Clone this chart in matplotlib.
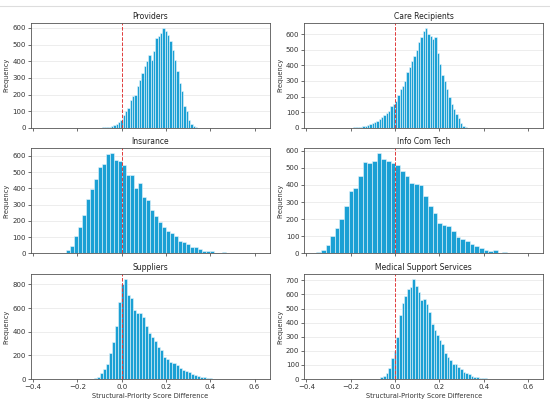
"""Histograms of structural-priority score differences by stakeholder group."""

import matplotlib
matplotlib.use("Agg")
import matplotlib.pyplot as plt
import numpy as np
from matplotlib.lines import Line2D
from matplotlib.ticker import MultipleLocator

# panel titles, in grid order (row by row)
titles = [
    "Providers",
    "Care Recipients",
    "Insurance",
    "Info Com Tech",
    "Suppliers",
    "Medical Support Services",
]

# first bin edge and bin width of each histogram
bin_starts = [-0.100, -0.200, -0.285, -0.3555, -0.124, -0.066]
bin_widths = [0.0105, 0.0105, 0.018, 0.021, 0.0136, 0.012]

# bar heights (frequency)
providers = [2, 3, 5, 6, 8, 10, 15, 25, 35, 50, 80, 100, 120, 170, 190, 200,
             250, 290, 330, 370, 400, 440, 410, 460, 540, 550, 570, 600, 580,
             560, 520, 470, 410, 340, 270, 220, 130, 100, 50, 25, 10, 3]
care_recipients = [2, 3, 5, 6, 8, 10, 15, 20, 22, 28, 35, 45, 55, 70, 80, 95,
                   110, 140, 150, 175, 210, 250, 270, 300, 360, 390, 430, 460,
                   500, 550, 580, 620, 640, 600, 590, 570, 580, 480, 410, 340,
                   300, 250, 200, 150, 120, 90, 60, 30, 15, 5, 2]
insurance = [1, 5, 20, 48, 105, 165, 235, 335, 395, 460, 530, 550, 610, 615,
             575, 570, 545, 485, 480, 400, 435, 345, 330, 270, 230, 195, 160,
             135, 125, 110, 75, 70, 55, 40, 38, 30, 15, 17, 15, 5, 3, 8, 3, 2, 1]
info_com_tech = [10, 20, 49, 103, 150, 201, 279, 362, 380, 454, 536, 526, 542,
                 584, 551, 542, 526, 515, 481, 454, 409, 403, 399, 337, 279,
                 234, 175, 166, 162, 130, 97, 82, 72, 55, 45, 33, 23, 16, 20,
                 4, 10, 2, 2, 1]
suppliers = [6, 20, 48, 82, 127, 218, 316, 444, 655, 800, 845, 712, 684, 585,
             557, 557, 528, 444, 387, 359, 325, 274, 246, 185, 167, 147, 133,
             119, 90, 76, 68, 56, 42, 31, 25, 20, 14, 11, 6]
medical_support = [12, 21, 45, 75, 146, 197, 298, 451, 538, 592, 639, 655, 709,
                   662, 615, 561, 568, 533, 474, 392, 345, 310, 275, 246, 185,
                   157, 134, 110, 106, 87, 68, 52, 40, 33, 21, 16, 12, 9, 7, 5,
                   3, 2, 2, 1]

counts = [providers, care_recipients, insurance, info_com_tech, suppliers,
          medical_support]

# y tick spacing of each panel
y_steps = [100, 100, 100, 100, 200, 100]

x_ticks = [-0.4, -0.2, 0.0, 0.2, 0.4, 0.6]
x_label = "Structural-Priority Score Difference"

BAR_COLOR = "#1ba0d4"

fig, axes = plt.subplots(3, 2, figsize=(5.5, 4.08), dpi=100, sharex=True)
fig.subplots_adjust(left=0.056, right=0.988, bottom=0.071, top=0.944,
                    wspace=0.1425, hspace=0.196)

for ax, title, start, width, heights, step in zip(
        axes.flat, titles, bin_starts, bin_widths, counts, y_steps):
    edges = start + width * np.arange(len(heights) + 1)
    ax.hist(edges[:-1], bins=edges, weights=heights, color=BAR_COLOR,
            edgecolor="#e8f6fc", linewidth=0.4)
    ax.axvline(0, color="#e03a3a", linestyle="--", linewidth=0.7)
    ax.yaxis.set_major_locator(MultipleLocator(step))
    ax.set_title(title, fontsize=5.5, pad=3, color="#222222")
    ax.set_ylabel("Frequency", fontsize=4.8, labelpad=2, color="#333333")
    ax.grid(axis="y", color="#e6e6e6", linewidth=0.5)
    ax.set_axisbelow(True)
    ax.tick_params(labelsize=5, length=2, width=0.5, pad=1.5,
                   colors="#333333")
    for spine in ax.spines.values():
        spine.set_color("#555555")
        spine.set_linewidth(0.6)

axes[0, 0].set_xticks(x_ticks)
axes[0, 0].set_xlim(-0.41, 0.67)
for ax in axes[-1]:
    ax.set_xlabel(x_label, fontsize=4.8, labelpad=2, color="#333333")

# light frame line left from the screenshot
fig.add_artist(Line2D([0, 1], [0.985, 0.985], color="#dddddd", linewidth=0.8))

fig.savefig("out.png", dpi=100)
